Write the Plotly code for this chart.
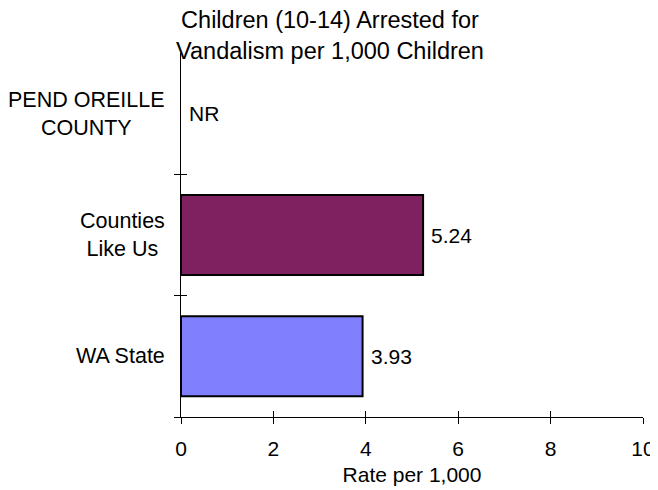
import plotly.graph_objects as go

categories = ["WA State", "Counties<br>Like Us", "PEND OREILLE<br>COUNTY"]
values = [3.93, 5.24, None]
value_labels = ["3.93", "5.24", "NR"]
bar_colors = ["#8080FF", "#7F2060", "#FFFFFF"]
x_ticks = [0, 2, 4, 6, 8, 10]
title_text = "Children (10-14) Arrested for<br>Vandalism per 1,000 Children"
x_title = "Rate per 1,000"

FONT = "Liberation Sans, Arial, sans-serif"
ypos = list(range(len(categories)))
bounds = [p - 0.5 for p in ypos]

W, H = 650, 482

fig = go.Figure()
fig.add_trace(go.Bar(
    x=values, y=ypos, orientation="h", width=0.66,
    marker=dict(color=bar_colors, line=dict(color="black", width=2)),
    hoverinfo="skip", showlegend=False,
))
fig.add_trace(go.Scatter(x=[None], y=[None], xaxis="x2", yaxis="y2",
                         showlegend=False, hoverinfo="skip"))

annotations = []
for yp, cat in zip(ypos, categories):
    annotations.append(dict(
        x=0, xref="paper", y=yp, yref="y", text=cat, showarrow=False,
        xanchor="right", yanchor="middle", align="center", xshift=-14,
        font=dict(family=FONT, size=21.5, color="black")))
for yp, v, lab in zip(ypos, values, value_labels):
    annotations.append(dict(
        x=(v if v is not None else 0), xref="x", y=yp, yref="y", text=lab,
        showarrow=False, xanchor="left", yanchor="middle", xshift=6,
        font=dict(family=FONT, size=21, color="black")))

fig.update_layout(
    width=W, height=H,
    margin=dict(l=173, r=15, t=45, b=73, autoexpand=False),
    paper_bgcolor="white", plot_bgcolor="white",
    font=dict(family=FONT, size=21, color="black"),
    title=dict(text=title_text, x=322 / W, xref="container", xanchor="center",
               y=1 - 20 / H, yref="container", yanchor="middle",
               font=dict(family=FONT, size=23.5, color="black")),
    xaxis=dict(range=[0, 10], tickvals=x_ticks, ticks="outside", ticklen=6,
               tickcolor="black", tickwidth=1, showline=True, linecolor="black",
               linewidth=1, showgrid=False, zeroline=False, automargin=False,
               tickfont=dict(family=FONT, size=21), fixedrange=True,
               ticklabelstandoff=7,
               title=dict(text=x_title, font=dict(family=FONT, size=21), standoff=8)),
    xaxis2=dict(range=[0, 10], tickvals=x_ticks, ticks="inside", ticklen=6,
                tickcolor="black", tickwidth=1, overlaying="x", anchor="y",
                side="bottom", showline=False, showgrid=False, zeroline=False,
                showticklabels=False, automargin=False),
    yaxis=dict(range=[-0.5, len(categories) - 0.5], tickvals=bounds,
               ticks="outside", ticklen=6, tickcolor="black", tickwidth=1,
               showline=True, linecolor="black", linewidth=1, showgrid=False,
               zeroline=False, showticklabels=False, fixedrange=True,
               automargin=False),
    yaxis2=dict(range=[-0.5, len(categories) - 0.5], tickvals=bounds,
                ticks="inside", ticklen=6, tickcolor="black", tickwidth=1,
                overlaying="y", anchor="x", side="left", showline=False,
                showgrid=False, zeroline=False, showticklabels=False,
                automargin=False),
    annotations=annotations,
)

fig.write_html("out.html")
